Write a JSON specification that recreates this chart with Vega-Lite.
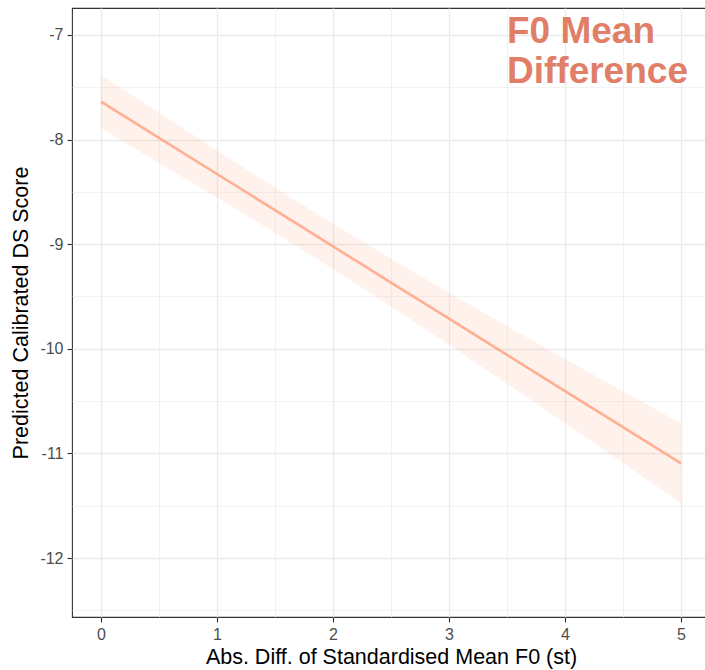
{
  "$schema": "https://vega.github.io/schema/vega-lite/v6.json",
  "autosize": {"type": "none"},
  "width": 638,
  "height": 609,
  "padding": {"left": 72, "top": 8, "right": 0, "bottom": 53},
  "background": "white",
  "config": {
    "view": {"stroke": "#333333", "strokeWidth": 1.1},
    "font": "Liberation Sans"
  },
  "datasets": {
    "fit": [
      {"x": 0, "fit": -7.638, "lo": -7.888, "hi": -7.388},
      {"x": 0.5, "fit": -7.984, "lo": -8.227, "hi": -7.741},
      {"x": 1, "fit": -8.329, "lo": -8.554, "hi": -8.104},
      {"x": 1.5, "fit": -8.675, "lo": -8.891, "hi": -8.459},
      {"x": 2, "fit": -9.021, "lo": -9.238, "hi": -8.804},
      {"x": 2.5, "fit": -9.367, "lo": -9.595, "hi": -9.139},
      {"x": 3, "fit": -9.712, "lo": -9.960, "hi": -9.464},
      {"x": 3.5, "fit": -10.058, "lo": -10.333, "hi": -9.783},
      {"x": 4, "fit": -10.404, "lo": -10.710, "hi": -10.098},
      {"x": 4.5, "fit": -10.749, "lo": -11.091, "hi": -10.407},
      {"x": 5, "fit": -11.095, "lo": -11.475, "hi": -10.715}
    ],
    "label": [
      {"x": 3.5, "y": -7.076, "text": "F0 Mean\nDifference"}
    ]
  },
  "layer": [
    {
      "data": {"name": "fit"},
      "mark": {"type": "area", "color": "#FFA07A", "opacity": 0.15},
      "encoding": {
        "x": {
          "field": "x", "type": "quantitative",
          "scale": {"domain": [-0.25, 5.25], "nice": false, "zero": false},
          "axis": {
            "title": "Abs. Diff. of Standardised Mean F0 (st)",
            "values": [0, 0.5, 1, 1.5, 2, 2.5, 3, 3.5, 4, 4.5, 5],
            "labelExpr": "datum.value % 1 === 0 ? '' + datum.value : ''",
            "grid": true,
            "gridColor": "#EBEBEB",
            "gridWidth": {"condition": {"test": "datum.value % 1 === 0", "value": 1.3}, "value": 0.65},
            "tickSize": {"condition": {"test": "datum.value % 1 === 0", "value": 5}, "value": 0},
            "tickColor": "#333333",
            "tickWidth": 1.1,
            "domain": false,
            "labelFontSize": 16,
            "labelColor": "#4D4D4D",
            "labelPadding": 4,
            "titleFontSize": 21.5,
            "titleFontWeight": "normal",
            "titleColor": "#000000",
            "titlePadding": 4
          }
        },
        "y": {
          "field": "lo", "type": "quantitative",
          "scale": {"domain": [-12.564, -6.742], "nice": false, "zero": false},
          "axis": {
            "title": "Predicted Calibrated DS Score",
            "values": [-12.5, -12, -11.5, -11, -10.5, -10, -9.5, -9, -8.5, -8, -7.5, -7],
            "labelExpr": "datum.value % 1 === 0 ? '' + datum.value : ''",
            "grid": true,
            "gridColor": "#EBEBEB",
            "gridWidth": {"condition": {"test": "datum.value % 1 === 0", "value": 1.3}, "value": 0.65},
            "tickSize": {"condition": {"test": "datum.value % 1 === 0", "value": 5}, "value": 0},
            "tickColor": "#333333",
            "tickWidth": 1.1,
            "domain": false,
            "labelFontSize": 16,
            "labelColor": "#4D4D4D",
            "labelPadding": 4,
            "titleFontSize": 21.5,
            "titleFontWeight": "normal",
            "titleColor": "#000000",
            "titlePadding": 7
          }
        },
        "y2": {"field": "hi"}
      }
    },
    {
      "data": {"name": "fit"},
      "mark": {"type": "line", "color": "#FFA07A", "opacity": 0.8, "strokeWidth": 2.6},
      "encoding": {
        "x": {"field": "x", "type": "quantitative", "title": "Abs. Diff. of Standardised Mean F0 (st)"},
        "y": {"field": "fit", "type": "quantitative", "title": "Predicted Calibrated DS Score"}
      }
    },
    {
      "data": {"name": "label"},
      "mark": {"type": "text", "align": "left", "baseline": "alphabetic", "fontSize": 37, "fontWeight": "bold", "color": "#E07E68", "lineBreak": "\n", "lineHeight": 40},
      "encoding": {
        "x": {"field": "x", "type": "quantitative", "title": "Abs. Diff. of Standardised Mean F0 (st)"},
        "y": {"field": "y", "type": "quantitative", "title": "Predicted Calibrated DS Score"},
        "text": {"field": "text"}
      }
    }
  ]
}
